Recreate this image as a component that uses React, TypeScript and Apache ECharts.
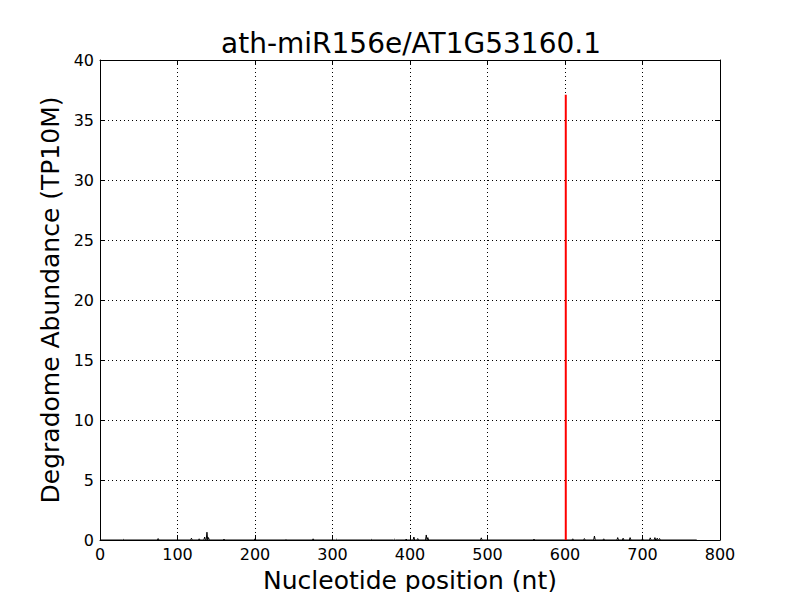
import React, { useEffect, useRef } from "react";
import * as echarts from "echarts";

const title = "ath-miR156e/AT1G53160.1";
const xLabel = "Nucleotide position (nt)";
const yLabel = "Degradome Abundance (TP10M)";
const transcriptLength = 770;
// small background peaks (position nt, abundance TP10M)
const peakPositions = [30, 75, 118, 128, 135, 138, 140, 160, 200, 240, 275, 305, 350, 380, 395, 405, 410, 421, 423, 492, 560, 610, 625, 638, 650, 668, 675, 684, 700, 710, 716, 719, 722];
const peakValues = [0.05, 0.12, 0.15, 0.1, 0.25, 0.65, 0.2, 0.08, 0.1, 0.06, 0.1, 0.06, 0.05, 0.06, 0.08, 0.25, 0.12, 0.42, 0.2, 0.18, 0.08, 0.1, 0.12, 0.33, 0.1, 0.2, 0.15, 0.2, 0.1, 0.18, 0.2, 0.15, 0.12];
const cleavagePosition = 601;
const cleavageValue = 37.1;

export default function App() {
  const ref = useRef<HTMLDivElement>(null);
  useEffect(() => {
    if (!ref.current) return;
    const chart = echarts.init(ref.current, null, { renderer: "svg" });
    const profile: [number, number][] = [[0, 0]];
    peakPositions.forEach((p, i) => {
      profile.push([p - 1, 0], [p, peakValues[i]], [p + 1, 0]);
    });
    profile.push([transcriptLength, 0]);
    const font = "DejaVu Sans";
    const axisCommon = {
      axisLine: { show: true, onZero: false, lineStyle: { color: "#000", width: 1 } },
      axisTick: { show: true, inside: true, length: 5, lineStyle: { color: "#000" } },
    };
    chart.setOption({
      animation: false,
      backgroundColor: "#fff",
      title: {
        text: title,
        left: 216,
        top: 24,
        textStyle: { fontFamily: font, fontSize: 28, fontWeight: "normal", color: "#000" },
      },
      grid: { left: 100, right: 80, top: 60, bottom: 60, show: false },
      xAxis: [
        {
          type: "value",
          min: 0,
          max: 800,
          interval: 100,
          name: xLabel,
          nameLocation: "middle",
          nameGap: 28,
          nameTextStyle: { fontFamily: font, fontSize: 25, color: "#000" },
          axisLabel: { fontFamily: font, fontSize: 16, color: "#000", margin: 6 },
          splitLine: { show: true, lineStyle: { color: "#000", type: [1, 3], width: 1 } },
          ...axisCommon,
        },
        {
          type: "value",
          position: "top",
          min: 0,
          max: 800,
          interval: 100,
          axisLabel: { show: false },
          splitLine: { show: false },
          ...axisCommon,
        },
      ],
      yAxis: [
        {
          type: "value",
          min: 0,
          max: 40,
          interval: 5,
          name: yLabel,
          nameLocation: "middle",
          nameGap: 36,
          nameTextStyle: { fontFamily: font, fontSize: 25, color: "#000" },
          axisLabel: { fontFamily: font, fontSize: 16, color: "#000", margin: 6 },
          splitLine: { show: true, lineStyle: { color: "#000", type: [1, 3], width: 1 } },
          ...axisCommon,
        },
        {
          type: "value",
          position: "right",
          min: 0,
          max: 40,
          interval: 5,
          axisLabel: { show: false },
          splitLine: { show: false },
          ...axisCommon,
        },
      ],
      series: [
        {
          type: "line",
          data: profile,
          showSymbol: false,
          lineStyle: { color: "#000", width: 1 },
          z: 3,
        },
        {
          type: "line",
          data: [
            [cleavagePosition, 0],
            [cleavagePosition, cleavageValue],
          ],
          showSymbol: false,
          lineStyle: { color: "#ff0000", width: 2 },
          z: 4,
        },
      ],
    });
    return () => chart.dispose();
  }, []);
  return <div ref={ref} style={{ width: 800, height: 600, margin: -8 }} />;
}
